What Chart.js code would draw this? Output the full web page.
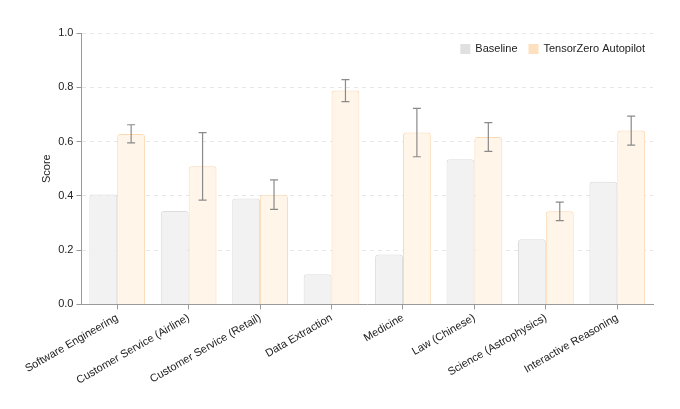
<!DOCTYPE html>
<html>
<head>
<meta charset="utf-8">
<script src="https://cdn.jsdelivr.net/npm/chart.js@4.4.1/dist/chart.umd.min.js"></script>
<style>
  html, body { margin: 0; padding: 0; background: #fff; }
  #wrap { width: 680px; height: 409px; }
</style>
</head>
<body>
<div id="wrap"><canvas id="chart"></canvas></div>
<script>
const categories = [
  "Software Engineering",
  "Customer Service (Airline)",
  "Customer Service (Retail)",
  "Data Extraction",
  "Medicine",
  "Law (Chinese)",
  "Science (Astrophysics)",
  "Interactive Reasoning"
];
const baseline = [0.405, 0.344, 0.39, 0.111, 0.184, 0.535, 0.24, 0.452];
const autopilot = [0.628, 0.509, 0.404, 0.788, 0.633, 0.617, 0.343, 0.641];
const autopilotLow = [0.595, 0.384, 0.35, 0.747, 0.544, 0.564, 0.309, 0.587];
const autopilotHigh = [0.662, 0.633, 0.459, 0.828, 0.722, 0.67, 0.377, 0.694];
const yTicks = [0, 0.2, 0.4, 0.6, 0.8, 1.0];
const legendSwatches = ["#e0e0e0", "#fde0bf"];

const font = { family: "'Liberation Sans', Arial, sans-serif", size: 11 };

// barras de erro desenhadas por cima do dataset do Autopilot
const errorBars = {
  id: "errorBars",
  afterDatasetsDraw(chart) {
    const ctx = chart.ctx;
    const y = chart.scales.y;
    const meta = chart.getDatasetMeta(1);
    ctx.save();
    ctx.strokeStyle = "#8a8a8a";
    ctx.lineWidth = 1.2;
    meta.data.forEach((bar, i) => {
      const yl = y.getPixelForValue(autopilotLow[i]);
      const yh = y.getPixelForValue(autopilotHigh[i]);
      const cap = 4;
      ctx.beginPath();
      ctx.moveTo(bar.x, yl); ctx.lineTo(bar.x, yh);
      ctx.moveTo(bar.x - cap, yl); ctx.lineTo(bar.x + cap, yl);
      ctx.moveTo(bar.x - cap, yh); ctx.lineTo(bar.x + cap, yh);
      ctx.stroke();
    });
    ctx.restore();
  }
};

// legenda dentro da área do gráfico, canto superior direito
const insideLegend = {
  id: "insideLegend",
  afterDraw(chart) {
    const ctx = chart.ctx;
    const area = chart.chartArea;
    const box = 10, gap = 5, spacing = 11;
    ctx.save();
    ctx.font = `${font.size}px ${font.family}`;
    ctx.textBaseline = "middle";
    const items = chart.data.datasets.map((ds, i) => ({
      text: ds.label,
      color: legendSwatches[i],
      w: box + gap + ctx.measureText(ds.label).width
    }));
    const total = items.reduce((s, it) => s + it.w, 0) + spacing * (items.length - 1);
    let x = area.right - 8 - total;
    const yMid = area.top + 16;
    items.forEach(it => {
      ctx.fillStyle = it.color;
      ctx.fillRect(x, yMid - box / 2, box, box);
      ctx.fillStyle = "#222";
      ctx.fillText(it.text, x + box + gap, yMid);
      x += it.w + spacing;
    });
    ctx.restore();
  }
};

new Chart(document.getElementById("chart"), {
  type: "bar",
  data: {
    labels: categories,
    datasets: [
      {
        label: "Baseline",
        data: baseline,
        backgroundColor: "#f2f2f2",
        borderColor: "#dcdcdc",
        borderWidth: 1,
        borderRadius: { topLeft: 3, topRight: 3 },
        borderSkipped: "bottom"
      },
      {
        label: "TensorZero Autopilot",
        data: autopilot,
        backgroundColor: "#fff5e9",
        borderColor: "#fbd9b2",
        borderWidth: 1,
        borderRadius: { topLeft: 3, topRight: 3 },
        borderSkipped: "bottom"
      }
    ]
  },
  options: {
    responsive: true,
    maintainAspectRatio: false,
    animation: false,
    layout: { padding: { top: 33, right: 27, left: 38, bottom: 20 } },
    datasets: { bar: { categoryPercentage: 0.78, barPercentage: 1.0 } },
    plugins: {
      tooltip: { enabled: false },
      legend: { display: false }
    },
    scales: {
      x: {
        ticks: {
          font: font,
          color: "#222",
          minRotation: 30,
          maxRotation: 30,
          padding: 2
        },
        grid: {
          offset: false,
          drawOnChartArea: false,
          tickLength: 5,
          tickColor: "#999"
        },
        border: { color: "#999", width: 1 }
      },
      y: {
        min: 0,
        max: 1,
        afterBuildTicks(axis) {
          axis.ticks = yTicks.map(v => ({ value: v }));
        },
        ticks: {
          font: font,
          color: "#222",
          padding: 3,
          callback: v => Number(v).toFixed(1)
        },
        grid: {
          color: "#e6e6e6",
          tickLength: 5,
          tickColor: "#999",
          tickBorderDash: []
        },
        border: { color: "#999", width: 1, dash: [4, 4] },
        title: { display: true, text: "Score", font: font, color: "#222", padding: 2 }
      }
    }
  },
  plugins: [errorBars, insideLegend]
});
</script>
</body>
</html>
